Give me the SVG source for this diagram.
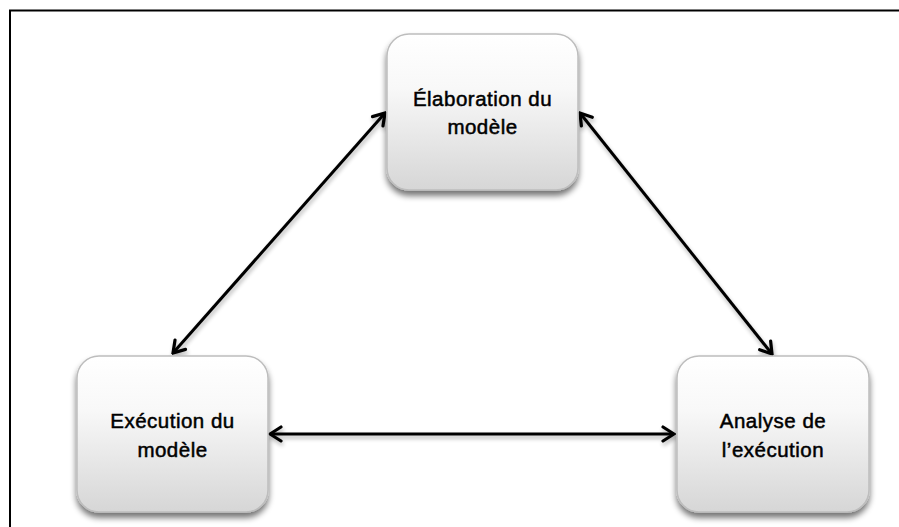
<svg xmlns="http://www.w3.org/2000/svg" width="899" height="527" viewBox="0 0 899 527">
<style>
.box{fill:url(#g);stroke:#bdbdbd;stroke-width:1.5;filter:url(#sh)}
.lbl{font-family:"Liberation Sans",Arial,sans-serif;font-size:20.5px;fill:#000;stroke:#000;stroke-width:0.5px;text-anchor:middle;letter-spacing:0.5px}
.con{stroke:#000;stroke-width:3;fill:none;marker-start:url(#ah);marker-end:url(#ah)}
</style>
<defs>
<linearGradient id="g" x1="0" y1="0" x2="0" y2="1">
<stop offset="0" stop-color="#ffffff"/>
<stop offset="0.35" stop-color="#f8f8f8"/>
<stop offset="1" stop-color="#d6d6d6"/>
</linearGradient>
<filter id="sh" x="-20%" y="-20%" width="140%" height="150%">
<feGaussianBlur in="SourceAlpha" stdDeviation="3"/>
<feOffset dy="5" result="b"/>
<feComponentTransfer><feFuncA type="linear" slope="0.55"/></feComponentTransfer>
<feMerge><feMergeNode/><feMergeNode in="SourceGraphic"/></feMerge>
</filter>
<filter id="ls" filterUnits="userSpaceOnUse" x="0" y="0" width="899" height="527">
<feGaussianBlur in="SourceAlpha" stdDeviation="2"/>
<feOffset dx="1" dy="3"/>
<feComponentTransfer><feFuncA type="linear" slope="0.3"/></feComponentTransfer>
<feMerge><feMergeNode/><feMergeNode in="SourceGraphic"/></feMerge>
</filter>
<marker id="ah" viewBox="-14 -9 16 18" refX="0" refY="0" markerWidth="16" markerHeight="18" markerUnits="userSpaceOnUse" orient="auto-start-reverse">
<path d="M -11 -7 L 0 0 L -11 7" fill="none" stroke="#000" stroke-width="3.2" stroke-linecap="round" stroke-linejoin="miter"/>
</marker>
</defs>
<rect x="0" y="0" width="899" height="527" fill="#fff"/>
<rect x="10" y="10.5" width="900" height="530" fill="none" stroke="#000" stroke-width="2"/>
<g id="connectors" filter="url(#ls)">
<line class="con" x1="173" y1="353" x2="385" y2="113"/>
<line class="con" x1="580" y1="113" x2="772" y2="354"/>
<line class="con" x1="270" y1="434" x2="674" y2="434"/>
</g>
<g id="node-elaboration">
<rect class="box" x="387" y="34" width="191" height="156" rx="22"/>
<text class="lbl" x="482.5" y="106">Élaboration du</text>
<text class="lbl" x="482.5" y="134">modèle</text>
</g>
<g id="node-execution">
<rect class="box" x="77" y="356" width="191" height="156" rx="22"/>
<text class="lbl" x="172.5" y="428">Exécution du</text>
<text class="lbl" x="172.5" y="457">modèle</text>
</g>
<g id="node-analyse">
<rect class="box" x="677" y="356" width="192" height="156" rx="22"/>
<text class="lbl" x="773" y="428">Analyse de</text>
<text class="lbl" x="773" y="457">l’exécution</text>
</g>
</svg>
